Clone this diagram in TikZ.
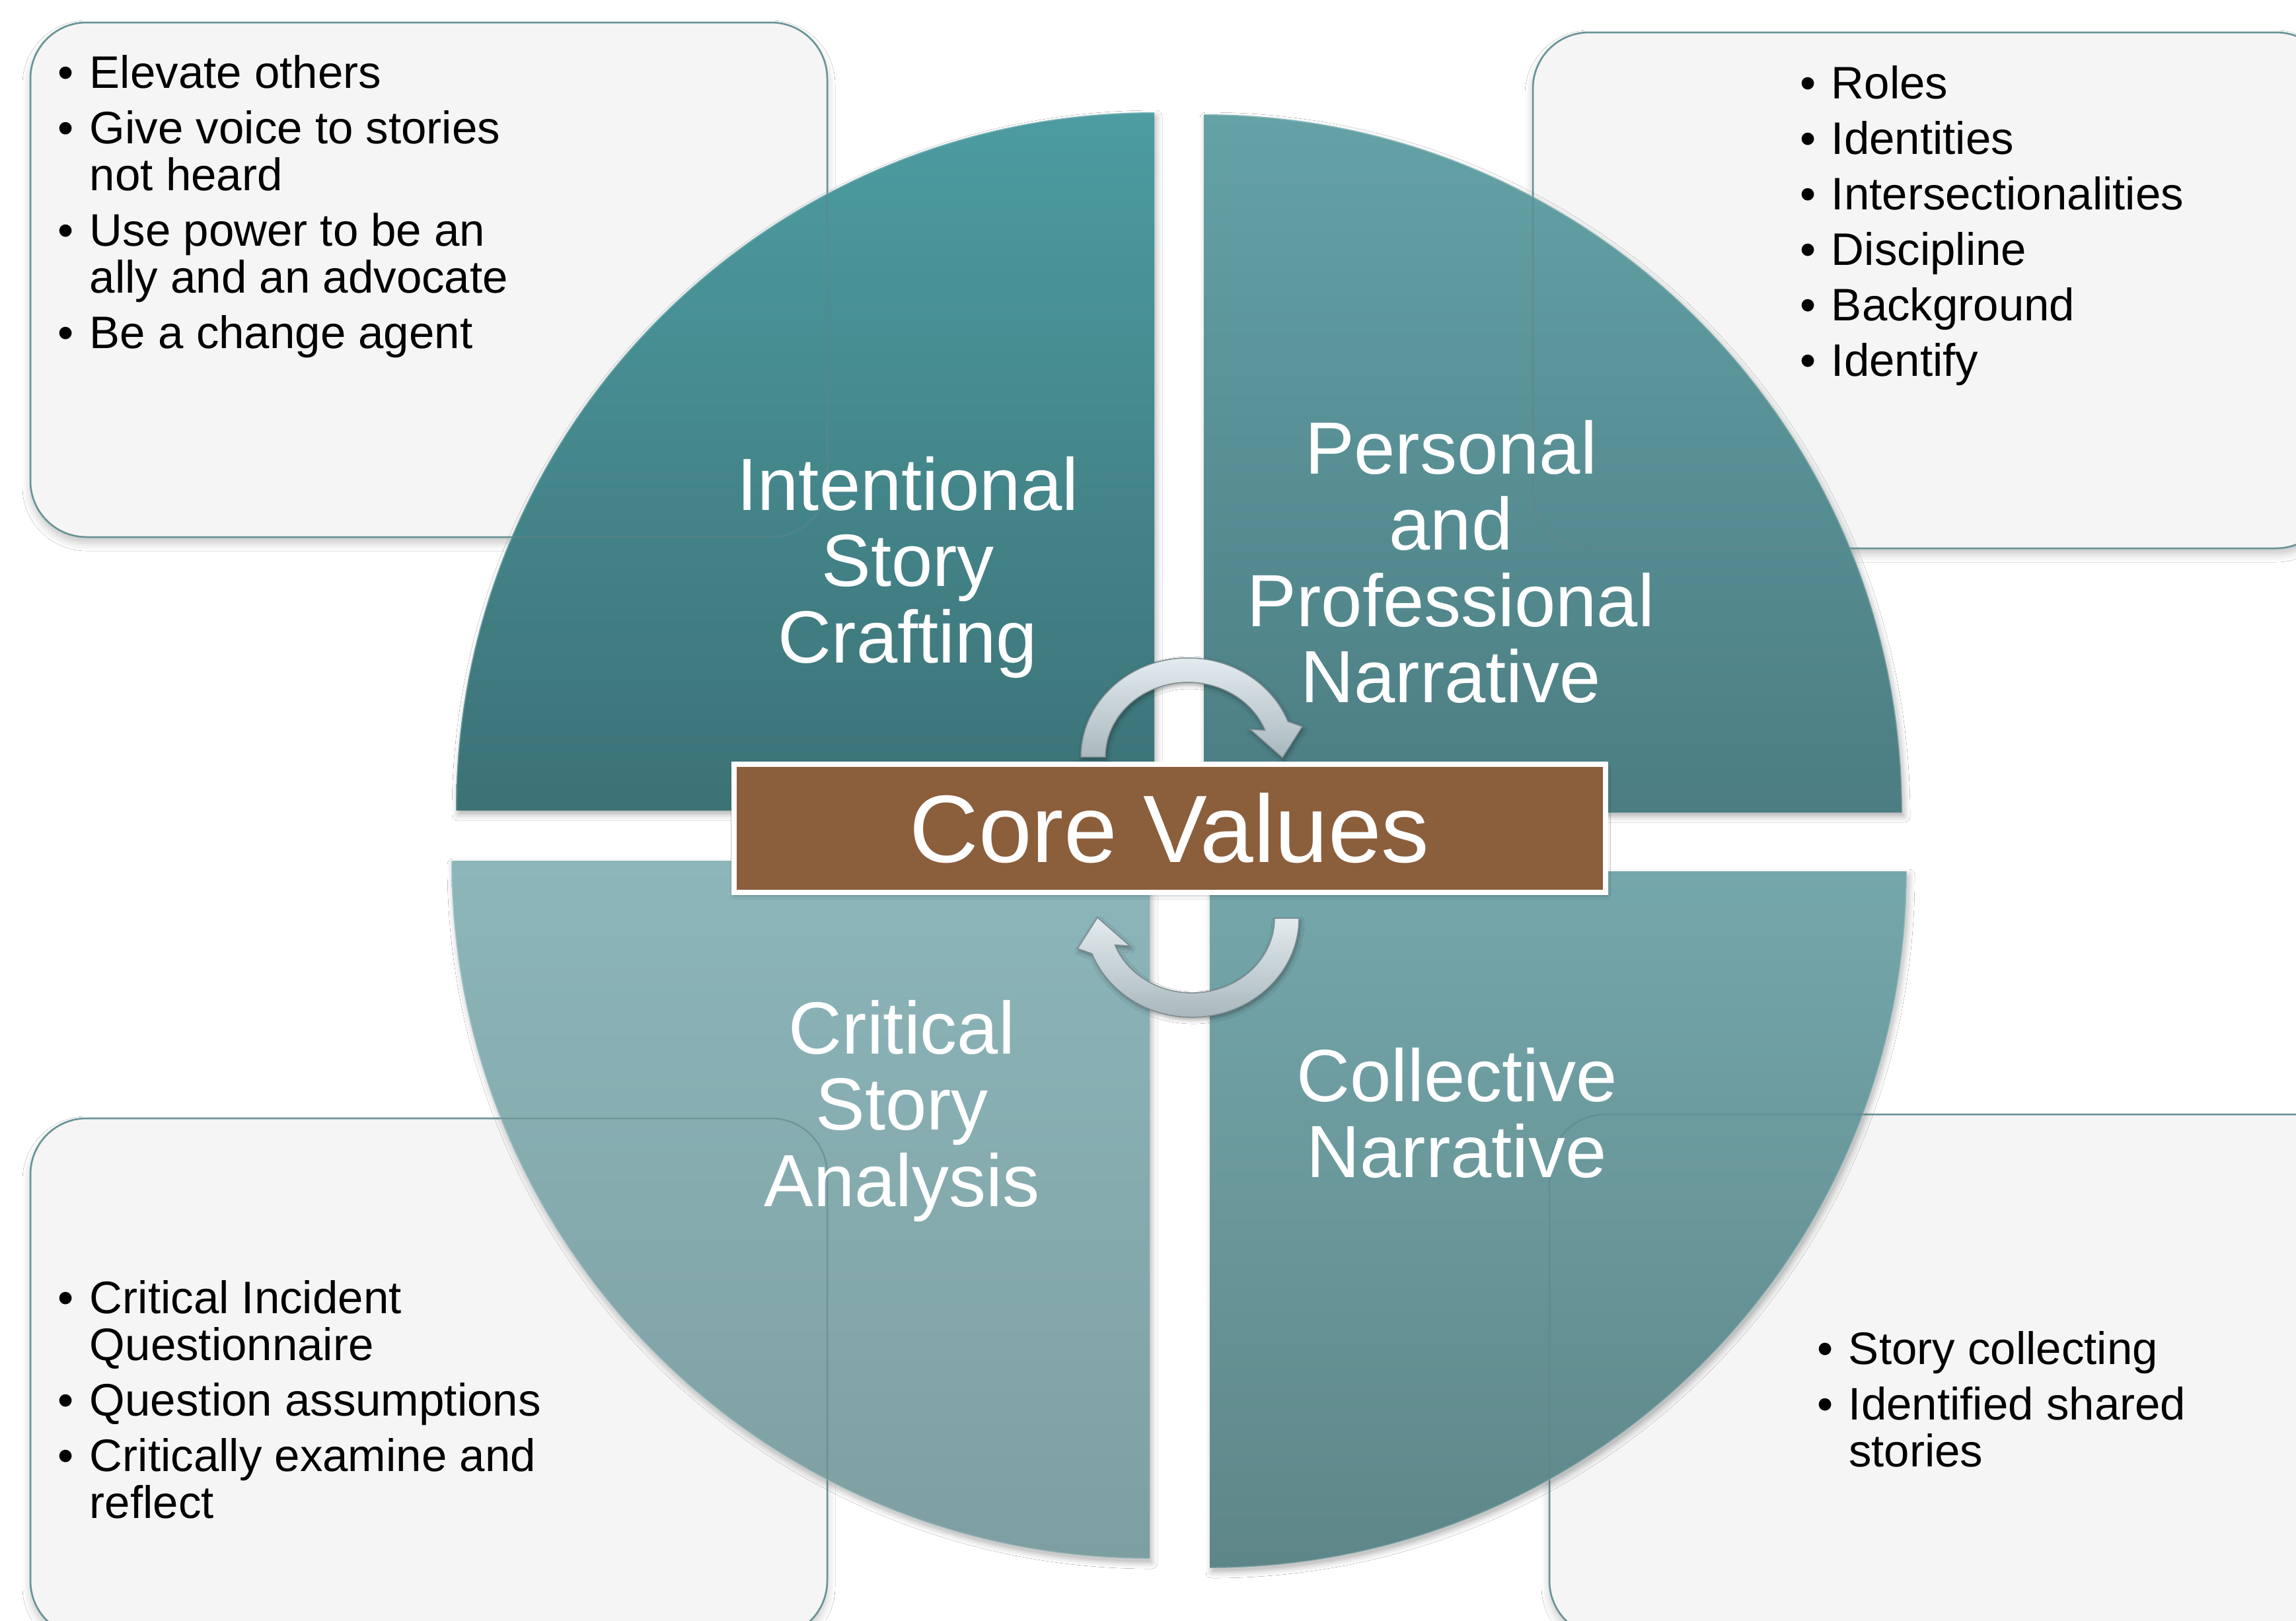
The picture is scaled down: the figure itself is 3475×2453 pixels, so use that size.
\documentclass[tikz,border=0pt]{standalone}
\usepackage{fontspec}
\setmainfont{Liberation Sans}
\usetikzlibrary{shadows.blur}

\definecolor{boxfill}{HTML}{F5F5F5}
\definecolor{boxline}{HTML}{78A7AB}
\definecolor{coreBrown}{HTML}{8B5E3C}
\definecolor{tlTop}{HTML}{4C9CA1}
\definecolor{tlBot}{HTML}{3C7276}
\definecolor{trTop}{HTML}{64A2A6}
\definecolor{trBot}{HTML}{4B7D82}
\definecolor{blTop}{HTML}{8CB6BA}
\definecolor{blBot}{HTML}{7E9FA2}
\definecolor{brTop}{HTML}{74A7AB}
\definecolor{brBot}{HTML}{5E8688}
\definecolor{arrowLight}{HTML}{E3EBEE}
\definecolor{arrowDark}{HTML}{A9B8BD}
\definecolor{arrowEdge}{HTML}{7E8B90}

% bullet lists: fixed line breaks, hanging indent after the bullet
\newcommand\listfont{\fontsize{6.9mm}{7.1mm}\selectfont}
\newcommand\bitem[1]{\par\hangindent=4.8mm\hangafter=1\noindent\hbox to 4.8mm{\textbullet\hfil}#1}
\newcommand\bulletlist[1]{\vtop{\hsize=110mm\parindent=0pt\parskip=1.3mm\listfont #1\par}}
% centred multi-line label whose baseline is that of its first line
\newcommand\linestack[1]{\vtop{\halign{\hfil##\hfil\cr#1\crcr}}}

\tikzset{
  every node/.style={inner sep=0pt, outer sep=0pt},
  infobox/.style={fill=boxfill, draw=boxline, line width=0.25mm, rounded corners=8.5mm,
    blur shadow={shadow xshift=0mm, shadow yshift=-0.9mm, shadow blur radius=1.2mm, shadow opacity=22}},
  boxedge/.style={draw=boxline!80!black, draw opacity=0.6, line width=0.25mm, rounded corners=8.5mm},
  quad/.style={blur shadow={shadow xshift=0.3mm, shadow yshift=-0.6mm, shadow blur radius=0.9mm, shadow opacity=30}},
  quadedge/.style={draw=white, draw opacity=0.25, line width=0.3mm},
  quadlabel/.style={anchor=base, text=white, font=\fontsize{11.2mm}{11.55mm}\selectfont},
  listtext/.style={anchor=base west, text=black},
  cyclearrow/.style={top color=arrowLight, bottom color=arrowDark, draw=arrowEdge, line width=0.15mm,
    blur shadow={shadow xshift=0.2mm, shadow yshift=-0.4mm, shadow blur radius=0.6mm, shadow opacity=35}},
  corebox/.style={fill=coreBrown, draw=white, line width=0.8mm, minimum width=131.9mm, minimum height=19.4mm,
    text=white, font=\fontsize{14.5mm}{14.5mm}\selectfont,
    blur shadow={shadow xshift=0.2mm, shadow yshift=-0.4mm, shadow blur radius=0.6mm, shadow opacity=30}},
}

\begin{document}
\begin{tikzpicture}[x=0.1mm, y=-0.1mm]
  \useasboundingbox (0,0) rectangle (3475,2453);
  \clip (0,0) rectangle (3475,2453);
  \fill[white] (0,0) rectangle (3475,2453);

  % four note boxes behind the wheel
  \path[infobox] (46,34) rectangle (1252,813);
  \path[infobox] (2320,49) rectangle (3530,830);
  \path[infobox] (46,1693) rectangle (1252,2478);
  \path[infobox] (2345,1687) rectangle (3570,2478);

  % the four exploded quarters of the wheel
  \shade[quad, top color=tlTop, bottom color=tlBot]
    (1747,1227) -- (690,1227) arc[start angle=180, end angle=270, radius=1057] -- cycle;
  \shade[quad, top color=trTop, bottom color=trBot]
    (1822,1230) -- (1822,173) arc[start angle=270, end angle=360, radius=1057] -- cycle;
  \shade[quad, top color=blTop, bottom color=blBot]
    (1740,1303) -- (1740,2360) arc[start angle=90, end angle=180, radius=1057] -- cycle;
  \shade[quad, top color=brTop, bottom color=brBot]
    (1831,1319) -- (2886,1319) arc[start angle=0, end angle=90, radius=1055] -- cycle;
  \draw[quadedge] (690,1227) arc[start angle=180, end angle=270, radius=1057];
  \draw[quadedge] (1822,173) arc[start angle=270, end angle=360, radius=1057];
  \draw[quadedge] (1740,2360) arc[start angle=90, end angle=180, radius=1057];
  \draw[quadedge] (2886,1319) arc[start angle=0, end angle=90, radius=1055];

  % box outlines showing through the wheel
  \draw[boxedge] (46,34) rectangle (1252,813);
  \draw[boxedge] (2320,49) rectangle (3530,830);
  \draw[boxedge] (46,1693) rectangle (1252,2478);
  \draw[boxedge] (2345,1687) rectangle (3570,2478);

  % circular arrows around the centre
  \path[cyclearrow]
    (1636,1146) arc[start angle=180, end angle=339, x radius=162, y radius=150]
    -- (1971,1100) -- (1941,1147) -- (1892,1104) -- (1914.7,1105.5)
    arc[start angle=339, end angle=180, x radius=125, y radius=113] -- cycle;
  \begin{scope}[rotate around={180:(1801,1268)}]
    \path[cyclearrow]
      (1636,1146) arc[start angle=180, end angle=339, x radius=162, y radius=150]
      -- (1971,1100) -- (1941,1147) -- (1892,1104) -- (1914.7,1105.5)
      arc[start angle=339, end angle=180, x radius=125, y radius=113] -- cycle;
  \end{scope}

  % centre banner
  \node[corebox] (core) at (1770,1254) {Core Values};

  % quarter labels
  \node[quadlabel] (crafting) at (1374,772) {\linestack{Intentional\cr Story\cr Crafting}};
  \node[quadlabel] (personal) at (2196,717) {\linestack{Personal\cr and\cr Professional\cr Narrative}};
  \node[quadlabel] (analysis) at (1365,1595) {\linestack{Critical\cr Story\cr Analysis}};
  \node[quadlabel] (collective) at (2205,1667) {\linestack{Collective\cr Narrative}};

  % bullet lists
  \node[listtext] (craftlist) at (88,133) {\bulletlist{%
    \bitem{Elevate others}
    \bitem{Give voice to stories\newline not heard}
    \bitem{Use power to be an\newline ally and an advocate}
    \bitem{Be a change agent}}};
  \node[listtext] (personlist) at (2724,149) {\bulletlist{%
    \bitem{Roles}
    \bitem{Identities}
    \bitem{Intersectionalities}
    \bitem{Discipline}
    \bitem{Background}
    \bitem{Identify}}};
  \node[listtext] (analysislist) at (88,1988) {\bulletlist{%
    \bitem{Critical Incident\newline Questionnaire}
    \bitem{Question assumptions}
    \bitem{Critically examine and\newline reflect}}};
  \node[listtext] (collectlist) at (2750,2065) {\bulletlist{%
    \bitem{Story collecting}
    \bitem{Identified shared\newline stories}}};
\end{tikzpicture}
\end{document}
